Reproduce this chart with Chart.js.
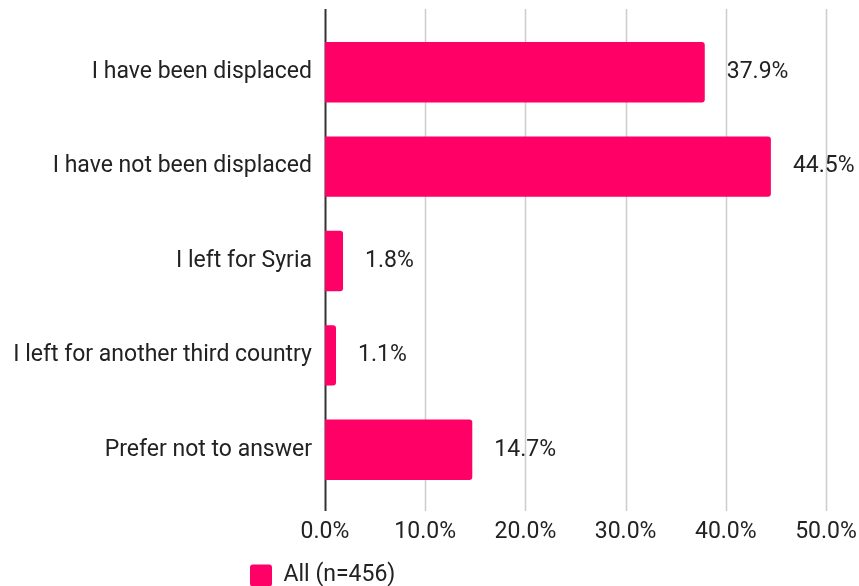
<!DOCTYPE html>
<html>
<head>
<meta charset="utf-8">
<script src="https://cdn.jsdelivr.net/npm/chart.js@4/dist/chart.umd.min.js"></script>
<style>
  html, body { margin: 0; padding: 0; background: #fff; }
  #wrap { width: 859px; height: 586px; position: relative; }
</style>
</head>
<body>
<div id="wrap"><canvas id="chart"></canvas></div>
<script>
// Chart data
const categories = [
    'I have been displaced',
    'I have not been displaced',
    'I left for Syria',
    'I left for another third country',
    'Prefer not to answer'
];
const values = [37.9, 44.5, 1.8, 1.1, 14.7];
const seriesName = 'All (n=456)';
const xTicks = [0, 10, 20, 30, 40, 50];

const barColor = '#FF0066';
const textColor = '#222222';
const fontSize = 23;

// Grid lines that run a little past the plot area, like the original
const gridPlugin = {
    id: 'extendedGrid',
    beforeDatasetsDraw(chart) {
        const ctx = chart.ctx;
        const area = chart.chartArea;
        const x = chart.scales.x;
        ctx.save();
        xTicks.forEach(function(t) {
            const px = Math.round(x.getPixelForValue(t)) + 0.5;
            ctx.beginPath();
            ctx.lineWidth = t === 0 ? 2 : 1.5;
            ctx.strokeStyle = t === 0 ? '#333333' : '#cccccc';
            ctx.moveTo(px, area.top - 16);
            ctx.lineTo(px, area.bottom + 14);
            ctx.stroke();
        });
        ctx.restore();
    }
};

// Value labels to the right of each bar
const valueLabels = {
    id: 'valueLabels',
    afterDatasetsDraw(chart) {
        const ctx = chart.ctx;
        const meta = chart.getDatasetMeta(0);
        ctx.save();
        ctx.font = fontSize + 'px Roboto';
        ctx.fillStyle = textColor;
        ctx.textBaseline = 'middle';
        ctx.textAlign = 'left';
        meta.data.forEach(function(bar, i) {
            ctx.fillText(values[i].toFixed(1) + '%', bar.x + 22, bar.y);
        });
        ctx.restore();
    }
};

// Move the legend left (under the axis) and a bit lower
const legendShift = {
    id: 'legendShift',
    afterLayout(chart) {
        chart.legend.left = 243;
        chart.legend.top += 11;
    }
};

new Chart(document.getElementById('chart'), {
    type: 'bar',
    data: {
        labels: categories,
        datasets: [{
            label: seriesName,
            data: values,
            backgroundColor: barColor,
            borderRadius: 3,
            categoryPercentage: 0.8,
            barPercentage: 0.8
        }]
    },
    options: {
        indexAxis: 'y',
        responsive: true,
        maintainAspectRatio: false,
        animation: false,
        layout: {
            padding: { top: 25, right: 3, left: 10, bottom: 0 }
        },
        plugins: {
            legend: {
                position: 'bottom',
                align: 'start',
                labels: {
                    boxWidth: 22,
                    boxHeight: 22,
                    padding: 7,
                    useBorderRadius: true,
                    borderRadius: 3,
                    color: textColor,
                    font: { family: 'Roboto', size: fontSize }
                }
            },
            tooltip: { enabled: false }
        },
        scales: {
            x: {
                min: 0,
                max: 50,
                grid: { display: false, drawTicks: false },
                border: { display: false },
                afterFit: function(scale) {
                    scale.height = 49;
                    scale.paddingLeft = 0;
                    scale.paddingRight = 33;
                },
                ticks: {
                    stepSize: 10,
                    padding: 21,
                    maxRotation: 0,
                    color: textColor,
                    font: { family: 'Roboto', size: fontSize },
                    callback: function(value) {
                        return value.toFixed(1) + '%';
                    }
                }
            },
            y: {
                grid: { display: false, drawTicks: false },
                border: { display: false },
                afterFit: function(scale) {
                    scale.width = 315;
                    scale.paddingTop = 0;
                    scale.paddingBottom = 0;
                },
                ticks: {
                    padding: 13,
                    color: textColor,
                    font: { family: 'Roboto', size: fontSize }
                }
            }
        }
    },
    plugins: [gridPlugin, valueLabels, legendShift]
});
</script>
</body>
</html>
